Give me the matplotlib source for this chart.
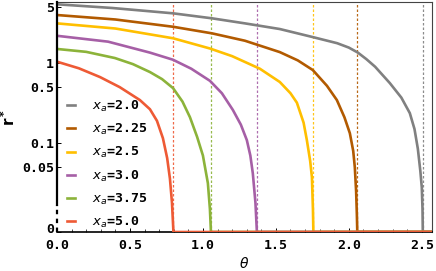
import matplotlib
matplotlib.use("Agg")
import matplotlib.pyplot as plt
import matplotlib.transforms as mtransforms
import numpy as np

# values (theta, r*) for each x_a
labels = ["2.0", "2.25", "2.5", "3.0", "3.75", "5.0"]
colors = ["#808080", "#B25A00", "#FFBF00", "#A65FA6", "#8CB33A", "#EE5A35"]
theta_c = [2.507, 2.058, 1.757, 1.37, 1.055, 0.798]

th_20 = [0, 0.38, 0.795, 1.062, 1.288, 1.527, 1.753, 1.92, 2.0, 2.062, 2.12,
         2.18, 2.281, 2.36, 2.418, 2.45, 2.473, 2.49, 2.5, 2.505]
r_20 = [5.42, 4.87, 4.18, 3.62, 3.13, 2.66, 2.11, 1.77, 1.56, 1.35, 1.12,
        0.9, 0.562, 0.37, 0.237, 0.15, 0.085, 0.045, 0.028, 0.015]

th_225 = [0, 0.4, 0.795, 1.062, 1.288, 1.527, 1.65, 1.753, 1.85, 1.918, 1.97,
          2.007, 2.03, 2.041, 2.05, 2.055]
r_225 = [3.98, 3.5, 2.84, 2.35, 1.90, 1.37, 1.08, 0.818, 0.52, 0.345, 0.21,
         0.133, 0.08, 0.05, 0.025, 0.013]

th_25 = [0, 0.4, 0.795, 1.048, 1.2, 1.39, 1.527, 1.60, 1.644, 1.69, 1.712,
         1.735, 1.747, 1.754]
r_25 = [3.13, 2.7, 2.04, 1.52, 1.22, 0.85, 0.58, 0.42, 0.32, 0.18, 0.11,
        0.06, 0.0376, 0.015]

th_30 = [0, 0.35, 0.637, 0.795, 0.92, 1.048, 1.13, 1.205, 1.26, 1.301, 1.325,
         1.342, 1.36]
r_30 = [2.19, 1.85, 1.35, 1.10, 0.85, 0.60, 0.42, 0.26, 0.17, 0.109, 0.07,
        0.042, 0.018]

th_375 = [0, 0.2, 0.397, 0.52, 0.637, 0.72, 0.795, 0.86, 0.911, 0.96, 1.0,
          1.034, 1.048]
r_375 = [1.50, 1.38, 1.155, 0.97, 0.772, 0.63, 0.487, 0.33, 0.211, 0.12,
         0.07, 0.0316, 0.015]

th_50 = [0, 0.15, 0.295, 0.43, 0.568, 0.637, 0.685, 0.726, 0.755, 0.774,
         0.788, 0.795]
r_50 = [1.04, 0.86, 0.668, 0.5, 0.345, 0.265, 0.19, 0.115, 0.065, 0.036,
        0.018, 0.01]

thetas = [th_20, th_225, th_25, th_30, th_375, th_50]
rs = [r_20, r_225, r_25, r_30, r_375, r_50]

ZERO = 10 ** -2.11   # where r*=0 sits on the broken log axis
XMAX = 2.57

fig = plt.figure(figsize=(4.36, 2.71), dpi=100)
ax = fig.add_axes([57 / 436, 39 / 271, 375 / 436, 230 / 271])
ax.set_yscale("log")

for th, r, tc, c, lab in zip(thetas, rs, theta_c, colors, labels):
    x = np.array(th + [tc, XMAX + 0.1])
    y = np.maximum(np.array(r + [0, 0]), ZERO)
    ax.axvline(tc, color=c, lw=0.9, ls=(0, (2, 1.6)), alpha=0.9, zorder=1)
    ax.plot(x, y, color=c, lw=1.9, label=r"$x_a$=" + lab, zorder=3,
            solid_joinstyle="round")

ax.set_xlim(0, XMAX)
ax.set_ylim(ZERO, 10 ** 0.7625)

mono = {"family": "DejaVu Sans Mono", "weight": "bold", "size": 9.5}
ax.set_xticks([0, 0.5, 1.0, 1.5, 2.0, 2.5])
ax.set_xticklabels(["0.0", "0.5", "1.0", "1.5", "2.0", "2.5"], fontdict=mono)
ax.set_xticks(np.arange(0, 2.6, 0.1), minor=True)
ax.set_yticks([ZERO, 0.05, 0.1, 0.5, 1, 5])
ax.set_yticklabels(["0", "0.05", "0.1", "0.5", "1", "5"], fontdict=mono)
ax.yaxis.set_minor_locator(matplotlib.ticker.NullLocator())
ax.tick_params(axis="both", which="major", direction="in", length=3, width=0.7)
ax.tick_params(axis="x", which="major", pad=5)
ax.tick_params(axis="y", which="major", pad=2)
ax.tick_params(axis="x", which="minor", direction="in", length=2, width=0.5)

# lift the "0" label a little so it clears "0.0"
zero_lab = ax.get_yticklabels()[0]
zero_lab.set_transform(zero_lab.get_transform() +
                       mtransforms.ScaledTranslation(0, 3 / 72, fig.dpi_scale_trans))

ax.set_xlabel(r"$\theta$", fontsize=10, labelpad=3)
ax.set_ylabel(r"$\mathbf{r^*}$", fontsize=11)
ax.yaxis.set_label_coords(-0.105, 0.5)

# axis frame: broken left spine near r*=0
ax.spines["left"].set_visible(False)
for s in ["top", "right"]:
    ax.spines[s].set_color("#444444")
ax.spines["bottom"].set_linewidth(1.2)
brk = 27 / 230
ax.plot([0, 0], [brk, 1], transform=ax.transAxes, color="black", lw=1.6,
        clip_on=False, zorder=5)
ax.plot([0, 0], [0, brk], transform=ax.transAxes, color="black", lw=1.6,
        ls=(0, (2, 2)), clip_on=False, zorder=5)

leg = ax.legend(loc="upper left", bbox_to_anchor=(0.027, 0.58), frameon=False,
                handlelength=0.6, handletextpad=1.3, labelspacing=0.62,
                borderpad=0, borderaxespad=0,
                prop={"family": "DejaVu Sans Mono", "weight": "bold", "size": 9.5})

fig.savefig("out.png", dpi=100)
